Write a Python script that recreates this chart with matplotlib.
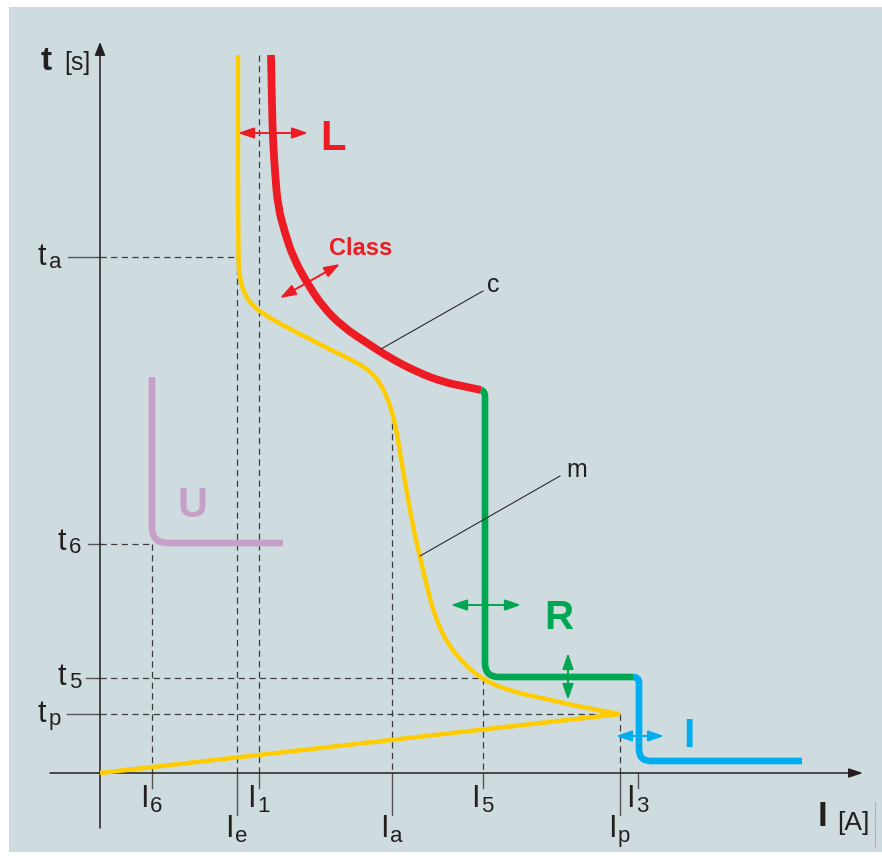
import matplotlib
matplotlib.use('Agg')
import matplotlib.pyplot as plt
from matplotlib.path import Path
from matplotlib.patches import PathPatch, FancyArrowPatch, Rectangle

plt.rcParams['font.family'] = ['Liberation Sans', 'DejaVu Sans']

# marks on the current axis (schematic units, origin where the axes cross)
I6, Ie, I1, Ia, I5, Ip, I3 = 52, 137, 159, 292, 383, 520, 538
# marks on the time axis
ta, t6, t5, tp = 516, 229, 95, 59

x_marks = [I6, Ie, I1, Ia, I5, Ip, I3]
x_subs = ['6', 'e', '1', 'a', '5', 'p', '3']
x_long = [False, True, False, True, False, True, False]

# motor starting curve m (rise to the peak, then the starting current)
m_rise_x = [0, Ip]
m_rise_y = [0, tp]
m_x = [520, 480, 447, 413, 383, 363, 347, 335, 327, 320, 313, 307, 300, 297,
       293, 287, 280, 272, 258, 235, 208, 182, 162, 152, 145, 140, 138, 138]
m_y = [59, 66, 74, 81, 93, 110, 130, 156, 186, 216, 246, 280, 320, 340,
       358, 376, 390, 400, 410, 421, 435, 448, 460, 468, 478, 493, 513, 718]

# overload protection curve c (L)
c_x = [171, 172, 173, 175, 178, 185, 193, 207, 223, 243, 267, 290, 317, 343, 367, 381]
c_y = [718, 666, 633, 600, 566, 540, 516, 490, 466, 446, 430, 415, 401, 391, 386, 383]

# rotor-lock step R, instantaneous step I, undercurrent U
r_x = [381, 385, 385, 385, 385, 399, 533]
r_y = [383, 382, 376, 110, 96, 96, 96]
i_x = [533, 539, 539, 539, 539, 551, 702]
i_y = [96, 96, 90, 24, 12, 12, 12]
u_x = [52, 52, 52, 68, 183]
u_y = [396, 246, 230, 230, 230]

YELLOW = '#ffcc00'
RED = '#ed1c24'
GREEN = '#00a651'
BLUE = '#00aeef'
PURPLE = '#c6a0c8'
INK = '#231f20'
DASH = '#3c3c3c'


def smooth(xs, ys, head=None):
    # quadratic bezier through the midpoints, read points act as control points
    pts = list(zip(xs, ys))
    verts, codes = [], []
    if head:
        verts += head
        codes += [Path.MOVETO] + [Path.LINETO] * (len(head) - 1)
        codes.append(Path.LINETO)
    else:
        codes.append(Path.MOVETO)
    verts.append(pts[0])
    for k in range(1, len(pts) - 1):
        verts += [pts[k], ((pts[k][0] + pts[k + 1][0]) / 2, (pts[k][1] + pts[k + 1][1]) / 2)]
        codes += [Path.CURVE3, Path.CURVE3]
    verts.append(pts[-1])
    codes.append(Path.LINETO)
    return Path(verts, codes)


fig = plt.figure(figsize=(8.82, 8.56), dpi=100)
ax = fig.add_axes([0, 0, 1, 1])
ax.set_xlim(-100, 782)
ax.set_ylim(-83, 773)
ax.axis('off')

ax.add_patch(Rectangle((-91, -79), 873, 845, facecolor='#cfdcdf', edgecolor='none', zorder=0))

dash = dict(color=DASH, lw=0.9, ls=(0, (5, 3.5)), zorder=1)
ax.plot([0, Ie], [ta, ta], **dash)
ax.plot([Ie, Ie], [ta, 0], **dash)
ax.plot([I1, I1], [718, 0], **dash)
ax.plot([0, I6], [t6, t6], **dash)
ax.plot([I6, I6], [t6, 0], **dash)
ax.plot([0, I5], [t5, t5], **dash)
ax.plot([I5, I5], [t5, 0], **dash)
ax.plot([0, Ip], [tp, tp], **dash)
ax.plot([Ip, Ip], [tp, 0], **dash)
ax.plot([Ia, Ia], [350, 0], **dash)

# ticks
tick = dict(color='#555555', lw=1.0, zorder=2)
for t, x0 in zip([ta, t6, t5, tp], [-32, -12, -14, -33]):
    ax.plot([x0, 0], [t, t], **tick)
for xm, lg in zip(x_marks, x_long):
    ax.plot([xm, xm], [0, -42 if lg else -15], **tick)

# axes with arrows
ax.add_patch(FancyArrowPatch((0, -55), (0, 731), arrowstyle='-|>,head_length=0.8,head_width=0.32',
                             mutation_scale=10, color=INK, lw=1.1, shrinkA=0, shrinkB=0, zorder=3))
ax.add_patch(FancyArrowPatch((-50, 0), (763, 0), arrowstyle='-|>,head_length=0.85,head_width=0.28',
                             mutation_scale=10, color=INK, lw=1.1, shrinkA=0, shrinkB=0, zorder=3))

# curves
m_path = smooth(m_x, m_y, head=list(zip(m_rise_x, m_rise_y))[:1])
ax.add_patch(PathPatch(m_path, fill=False, edgecolor=YELLOW, lw=3.2, joinstyle='miter',
                       capstyle='butt', zorder=4))
ax.add_patch(PathPatch(smooth(c_x, c_y), fill=False, edgecolor=RED, lw=5.6,
                       capstyle='butt', zorder=5))

step_codes = [Path.MOVETO, Path.CURVE3, Path.CURVE3, Path.LINETO, Path.CURVE3, Path.CURVE3, Path.LINETO]
ax.add_patch(PathPatch(Path(list(zip(r_x, r_y)), step_codes), fill=False, edgecolor=GREEN,
                       lw=4.8, capstyle='butt', zorder=5))
ax.add_patch(PathPatch(Path(list(zip(i_x, i_y)), step_codes), fill=False, edgecolor=BLUE,
                       lw=4.8, capstyle='butt', zorder=5))
u_codes = [Path.MOVETO, Path.LINETO, Path.CURVE3, Path.CURVE3, Path.LINETO]
ax.add_patch(PathPatch(Path(list(zip(u_x, u_y)), u_codes), fill=False, edgecolor=PURPLE,
                       lw=4.8, capstyle='butt', zorder=5))

# leader lines
ax.plot([281, 383], [424, 482], color=INK, lw=0.75, zorder=6)
ax.plot([320, 460], [217, 297], color=INK, lw=0.75, zorder=6)


def twoway(p0, p1, color):
    ax.add_patch(FancyArrowPatch(p0, p1, arrowstyle='<|-|>,head_length=0.95,head_width=0.33',
                                 mutation_scale=10, color=color, lw=1.4, shrinkA=0, shrinkB=0, zorder=7))


twoway((138, 640), (208, 640), RED)
twoway((180, 475), (240, 509), RED)
twoway((351, 168), (421, 168), GREEN)
twoway((468, 73), (468, 120), GREEN)
twoway((516, 37), (564, 37), BLUE)

# tick labels
for xm, s, lg in zip(x_marks, x_subs, x_long):
    yb = -64 if lg else -34
    ax.text(xm - 12, yb, 'I', fontsize=22, color=INK, va='baseline', ha='left')
    ax.text(xm - 2, yb - 5, s, fontsize=16, color=INK, va='baseline', ha='left')

for t, s, x0, yb in zip([ta, t6, t5, tp], ['a', '6', '5', 'p'], [-63, -43, -43, -63], [508, 223, 88, 51]):
    ax.text(x0, yb, 't', fontsize=22, color=INK, va='baseline', ha='left')
    ax.text(x0 + 12, yb - 3, s, fontsize=16, color=INK, va='baseline', ha='left')

# axis titles
ax.text(-59, 703, 't', fontsize=24, fontweight='bold', color=INK, va='baseline', ha='left')
ax.text(-36, 703, '[s]', fontsize=18, color=INK, va='baseline', ha='left')
ax.text(718, -53, 'I', fontsize=25, fontweight='bold', color=INK, va='baseline', ha='left')
ax.text(737, -57, '[A]', fontsize=19, color=INK, va='baseline', ha='left')

# curve names
ax.text(220, 623, 'L', fontsize=30, fontweight='bold', color=RED, va='baseline', ha='left')
ax.text(229, 518, 'Class', fontsize=17, fontweight='bold', color=RED, va='baseline', ha='left')
ax.text(444, 144, 'R', fontsize=29, fontweight='bold', color=GREEN, va='baseline', ha='left')
ax.text(583, 26, 'I', fontsize=29, fontweight='bold', color=BLUE, va='baseline', ha='left')
ax.text(77, 256, 'U', fontsize=30, fontweight='bold', color=PURPLE, va='baseline', ha='left')
ax.text(387, 481, 'c', fontsize=18, color=INK, va='baseline', ha='left')
ax.text(466, 296, 'm', fontsize=18, color=INK, va='baseline', ha='left')

ax.plot([775, 775], [-29, -74], color='#888888', lw=0.8, ls=(0, (1, 1.2)), zorder=1)

fig.savefig('out.png', dpi=100, facecolor='white')
